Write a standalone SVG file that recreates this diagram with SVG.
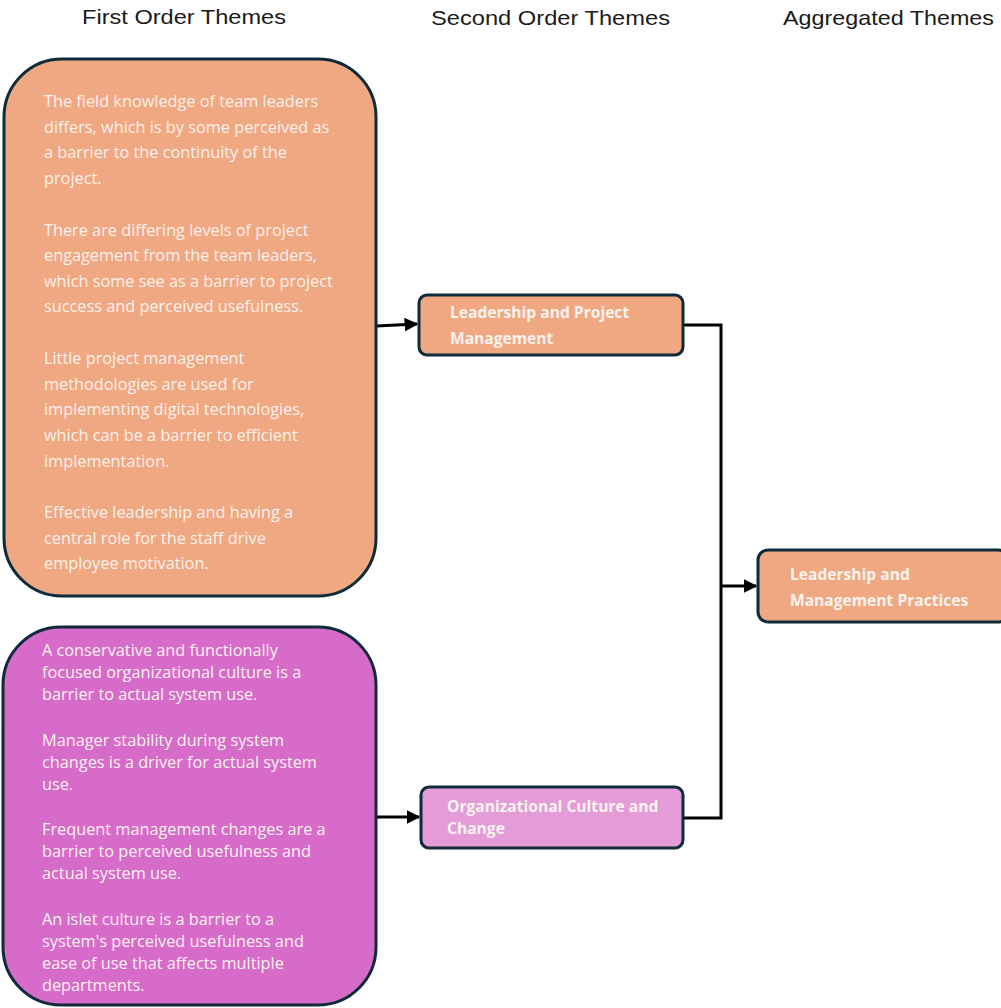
<svg xmlns="http://www.w3.org/2000/svg" width="1001" height="1008" viewBox="0 0 1001 1008">
  <style>
    .hdr { font-family: "Liberation Sans", Arial, sans-serif; font-size: 21px; fill: #1a1a1a; }
    .box { stroke: #0f2b3a; stroke-width: 3; }
    .orange { fill: #f0a882; }
    .magenta { fill: #d66bc9; }
    .lilac { fill: #e49cd9; }
    .body { font-family: "Open Sans", "Liberation Sans", sans-serif; font-size: 16.3px; fill: #fcf1ec; }
    .lbl { font-family: "Open Sans", "Liberation Sans", sans-serif; font-size: 15.6px; font-weight: bold; fill: #fdf3ee; }
    .wire { fill: none; stroke: #000; stroke-width: 3; }
  </style>
  <defs>
    <marker id="arrow" viewBox="0 0 10 10" refX="9" refY="5" markerWidth="4.6" markerHeight="4.6" orient="auto" markerUnits="strokeWidth">
      <path d="M0,0 L10,5 L0,10 z" fill="#000"/>
    </marker>
  </defs>

  <!-- column headers -->
  <g id="headers">
    <text class="hdr" x="82" y="24" textLength="204" lengthAdjust="spacingAndGlyphs">First Order Themes</text>
    <text class="hdr" x="431" y="25" textLength="239" lengthAdjust="spacingAndGlyphs">Second Order Themes</text>
    <text class="hdr" x="783" y="25" textLength="211" lengthAdjust="spacingAndGlyphs">Aggregated Themes</text>
  </g>

  <!-- connectors -->
  <g id="connectors">
    <path class="wire" d="M376,326 L417,324" marker-end="url(#arrow)"/>
    <path class="wire" d="M376,817 L419,817" marker-end="url(#arrow)"/>
    <path class="wire" d="M683,325 L721,325 L721,818 L683,818"/>
    <path class="wire" d="M721,586 L756,586" marker-end="url(#arrow)"/>
  </g>

  <!-- first order themes: leadership -->
  <g id="first-leadership">
    <rect class="box orange" x="4" y="59" width="372" height="537" rx="58" ry="58"/>
    <text class="body">
      <tspan x="44" y="107">The field knowledge of team leaders</tspan>
      <tspan x="44" y="133">differs, which is by some perceived as</tspan>
      <tspan x="44" y="158">a barrier to the continuity of the</tspan>
      <tspan x="44" y="184">project.</tspan>
      <tspan x="44" y="236">There are differing levels of project</tspan>
      <tspan x="44" y="261">engagement from the team leaders,</tspan>
      <tspan x="44" y="287">which some see as a barrier to project</tspan>
      <tspan x="44" y="312">success and perceived usefulness.</tspan>
      <tspan x="44" y="364">Little project management</tspan>
      <tspan x="44" y="390">methodologies are used for</tspan>
      <tspan x="44" y="415">implementing digital technologies,</tspan>
      <tspan x="44" y="441">which can be a barrier to efficient</tspan>
      <tspan x="44" y="467">implementation.</tspan>
      <tspan x="44" y="518">Effective leadership and having a</tspan>
      <tspan x="44" y="544">central role for the staff drive</tspan>
      <tspan x="44" y="569">employee motivation.</tspan>
    </text>
  </g>

  <!-- first order themes: culture -->
  <g id="first-culture">
    <rect class="box magenta" x="3" y="627" width="373" height="378" rx="58" ry="58"/>
    <text class="body">
      <tspan x="42" y="656">A conservative and functionally</tspan>
      <tspan x="42" y="678">focused organizational culture is a</tspan>
      <tspan x="42" y="700">barrier to actual system use.</tspan>
      <tspan x="42" y="746">Manager stability during system</tspan>
      <tspan x="42" y="768">changes is a driver for actual system</tspan>
      <tspan x="42" y="790">use.</tspan>
      <tspan x="42" y="835">Frequent management changes are a</tspan>
      <tspan x="42" y="857">barrier to perceived usefulness and</tspan>
      <tspan x="42" y="879">actual system use.</tspan>
      <tspan x="42" y="925">An islet culture is a barrier to a</tspan>
      <tspan x="42" y="947">system's perceived usefulness and</tspan>
      <tspan x="42" y="969">ease of use that affects multiple</tspan>
      <tspan x="42" y="991">departments.</tspan>
    </text>
  </g>

  <!-- second order themes -->
  <g id="second-leadership">
    <rect class="box orange" x="419" y="295" width="264" height="60" rx="8" ry="8"/>
    <text class="lbl">
      <tspan x="450" y="318">Leadership and Project</tspan>
      <tspan x="450" y="344">Management</tspan>
    </text>
  </g>

  <g id="second-culture">
    <rect class="box lilac" x="421" y="787" width="262" height="61" rx="8" ry="8"/>
    <text class="lbl">
      <tspan x="447" y="812">Organizational Culture and</tspan>
      <tspan x="447" y="834">Change</tspan>
    </text>
  </g>

  <!-- aggregated theme -->
  <g id="aggregated">
    <rect class="box orange" x="758" y="550" width="250" height="72" rx="10" ry="10"/>
    <text class="lbl">
      <tspan x="790" y="580">Leadership and</tspan>
      <tspan x="790" y="606">Management Practices</tspan>
    </text>
  </g>
</svg>
